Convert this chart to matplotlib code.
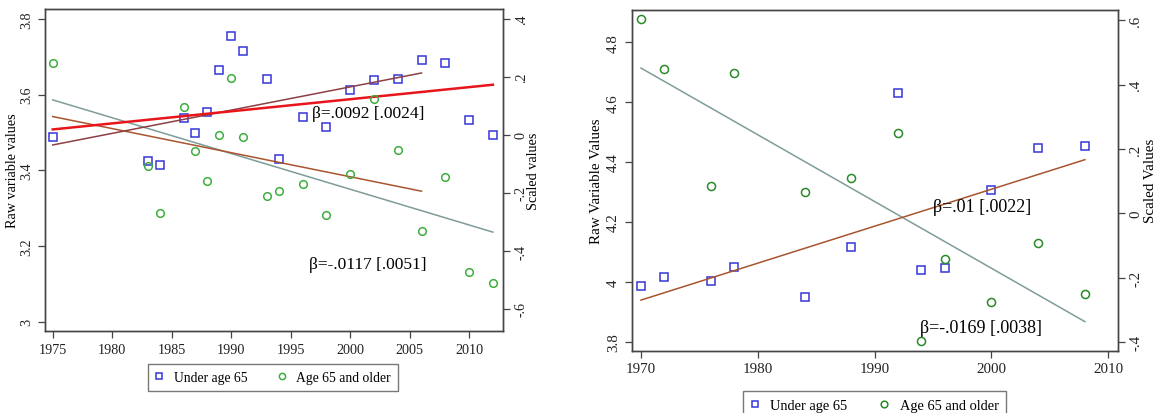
import matplotlib
matplotlib.use("Agg")
import matplotlib.pyplot as plt
from matplotlib.ticker import FuncFormatter
from matplotlib.lines import Line2D

plt.rcParams['font.family'] = ['Liberation Serif', 'DejaVu Serif']

# ---- left panel data ----
L_years = [1975, 1983, 1984, 1986, 1987, 1988, 1989, 1990, 1991, 1993,
           1994, 1996, 1998, 2000, 2002, 2004, 2006, 2008, 2010, 2012]
L_under65 = [3.489, 3.426, 3.415, 3.539, 3.498, 3.554, 3.664, 3.755, 3.714, 3.642,
             3.431, 3.542, 3.514, 3.611, 3.638, 3.642, 3.690, 3.683, 3.532, 3.494]
L_over65 = [0.248, -0.108, -0.269, 0.097, -0.056, -0.158, 0.000, 0.197, -0.006, -0.210,
            -0.194, -0.169, -0.276, -0.134, 0.122, -0.051, -0.332, -0.144, -0.473, -0.511]
# fitted lines (endpoints, raw units)
L_red_x, L_red_y = [1975, 2012], [3.508, 3.626]
L_maroon_x, L_maroon_y = [1975, 2006], [3.467, 3.657]
L_brown_x, L_brown_y = [1975, 2006], [3.542, 3.345]
L_gray_x, L_gray_y = [1975, 2012], [3.586, 3.237]

# ---- right panel data ----
R_years = [1970, 1972, 1976, 1978, 1984, 1988, 1992, 1994, 1996, 2000, 2004, 2008]
R_under65 = [3.985, 4.017, 4.004, 4.048, 3.950, 4.117, 4.631, 4.039, 4.045, 4.308, 4.446, 4.455]
R_over65 = [0.603, 0.448, 0.086, 0.437, 0.066, 0.109, 0.250, -0.397, -0.143, -0.275, -0.091, -0.251]
R_brown_x, R_brown_y = [1970, 2008], [3.939, 4.408]
R_gray_x, R_gray_y = [1970, 2008], [4.714, 3.867]

BLUE = '#3535D8'
GREEN_L = '#3DAE3D'
GREEN_R = '#2A8A2A'
RED = '#E8161B'
MAROON = '#8C3F45'
BROWN = '#A8552F'
GRAY = '#7E9C9A'
FRAME = '#444444'


def stata_fmt(v, pos):
    s = f"{v:.1f}".rstrip('0').rstrip('.')
    if s in ('-0', ''):
        s = '0'
    if s.startswith('0.'):
        s = s[1:]
    elif s.startswith('-0.'):
        s = '-' + s[2:]
    return s


def style(ax, ax2, fs):
    for a in (ax, ax2):
        for sp in a.spines.values():
            sp.set_color(FRAME)
            sp.set_linewidth(1.0)
        a.tick_params(direction='out', length=5, width=0.9, color=FRAME,
                      labelsize=fs, labelcolor='#222222')
    ax.tick_params(axis='y', labelrotation=90)
    ax2.tick_params(axis='y', labelrotation=90)
    ax.yaxis.set_major_formatter(FuncFormatter(stata_fmt))
    ax2.yaxis.set_major_formatter(FuncFormatter(stata_fmt))
    for lab in ax.get_yticklabels() + ax2.get_yticklabels():
        lab.set_va('center')


fig = plt.figure(figsize=(11.59, 4.14), dpi=100)

# ===== left panel =====
ax = fig.add_axes([0.0388, 0.198, 0.3952, 0.778])
ax2 = ax.twinx()
ax.plot(L_years, L_under65, linestyle='none', marker='s', ms=5.5, mfc='none',
        mec=BLUE, mew=1.1)
ax2.plot(L_years, L_over65, linestyle='none', marker='o', ms=5.5, mfc='none',
         mec=GREEN_L, mew=1.1)
ax.plot(L_gray_x, L_gray_y, color=GRAY, lw=1.1)
ax.plot(L_brown_x, L_brown_y, color=BROWN, lw=1.1)
ax.plot(L_maroon_x, L_maroon_y, color=MAROON, lw=1.1)
ax.plot(L_red_x, L_red_y, color=RED, lw=1.8)
ax.set_xlim(1974.35, 2012.85)
ax.set_ylim(2.976, 3.826)
ax2.set_ylim(-0.676, 0.434)
ax.set_xticks([1975, 1980, 1985, 1990, 1995, 2000, 2005, 2010])
ax.set_yticks([3, 3.2, 3.4, 3.6, 3.8])
ax2.set_yticks([-0.6, -0.4, -0.2, 0, 0.2, 0.4])
ax.set_ylabel('Raw variable values', fontsize=10.2, va='center')
ax2.set_ylabel('Scaled values', fontsize=10.2, va='center')
ax.yaxis.set_label_coords(-0.070, 0.5)
ax2.yaxis.set_label_coords(1.0655, 0.5)
style(ax, ax2, 10.2)
ax.text(2001.5, 3.552, u'\u03b2=.0092 [.0024]', fontsize=12.5, ha='center', va='center')
ax.text(2001.5, 3.152, u'\u03b2=-.0117 [.0051]', fontsize=12.5, ha='center', va='center')

# ===== right panel =====
bx = fig.add_axes([0.545, 0.1505, 0.4193, 0.823])
bx2 = bx.twinx()
bx.plot(R_years, R_under65, linestyle='none', marker='s', ms=5.8, mfc='none',
        mec=BLUE, mew=1.1)
bx2.plot(R_years, R_over65, linestyle='none', marker='o', ms=5.8, mfc='none',
         mec=GREEN_R, mew=1.1)
bx.plot(R_gray_x, R_gray_y, color=GRAY, lw=1.1)
bx.plot(R_brown_x, R_brown_y, color=BROWN, lw=1.1)
bx.set_xlim(1969.2, 2010.8)
bx.set_ylim(3.770, 4.908)
bx2.set_ylim(-0.427, 0.632)
bx.set_xticks([1970, 1980, 1990, 2000, 2010])
bx.set_yticks([3.8, 4, 4.2, 4.4, 4.6, 4.8])
bx2.set_yticks([-0.4, -0.2, 0, 0.2, 0.4, 0.6])
bx.set_ylabel('Raw Variable Values', fontsize=10.8, va='center')
bx2.set_ylabel('Scaled Values', fontsize=10.8, va='center')
bx.yaxis.set_label_coords(-0.0714, 0.5)
bx2.yaxis.set_label_coords(1.068, 0.5)
style(bx, bx2, 10.8)
bx.text(1999.2, 4.253, u'\u03b2=.01 [.0022]', fontsize=13, ha='center', va='center')
bx.text(1999.1, 3.846, u'\u03b2=-.0169 [.0038]', fontsize=13, ha='center', va='center')

# ===== legends =====
def legend_handles(green, ms):
    return [Line2D([], [], linestyle='none', marker='s', ms=ms, mfc='none', mec=BLUE, mew=1.1),
            Line2D([], [], linestyle='none', marker='o', ms=ms, mfc='none', mec=green, mew=1.1)]

labels = ['Under age 65', 'Age 65 and older']
for handles, x0, y0, fs in ((legend_handles(GREEN_L, 4.5), 148 / 1159, 1 - 392 / 414, 9.8),
                            (legend_handles(GREEN_R, 4.8), 743 / 1159, 1 - 420 / 414, 10.4)):
    leg = fig.legend(handles, labels, loc='lower left', bbox_to_anchor=(x0, y0),
                     ncol=2, fontsize=fs, frameon=True, fancybox=False,
                     handlelength=0.6, handletextpad=0.8, columnspacing=2.2,
                     borderpad=0.5, borderaxespad=0)
    leg.get_frame().set_edgecolor('#555555')
    leg.get_frame().set_linewidth(1.0)

fig.savefig('out.png', dpi=100)
